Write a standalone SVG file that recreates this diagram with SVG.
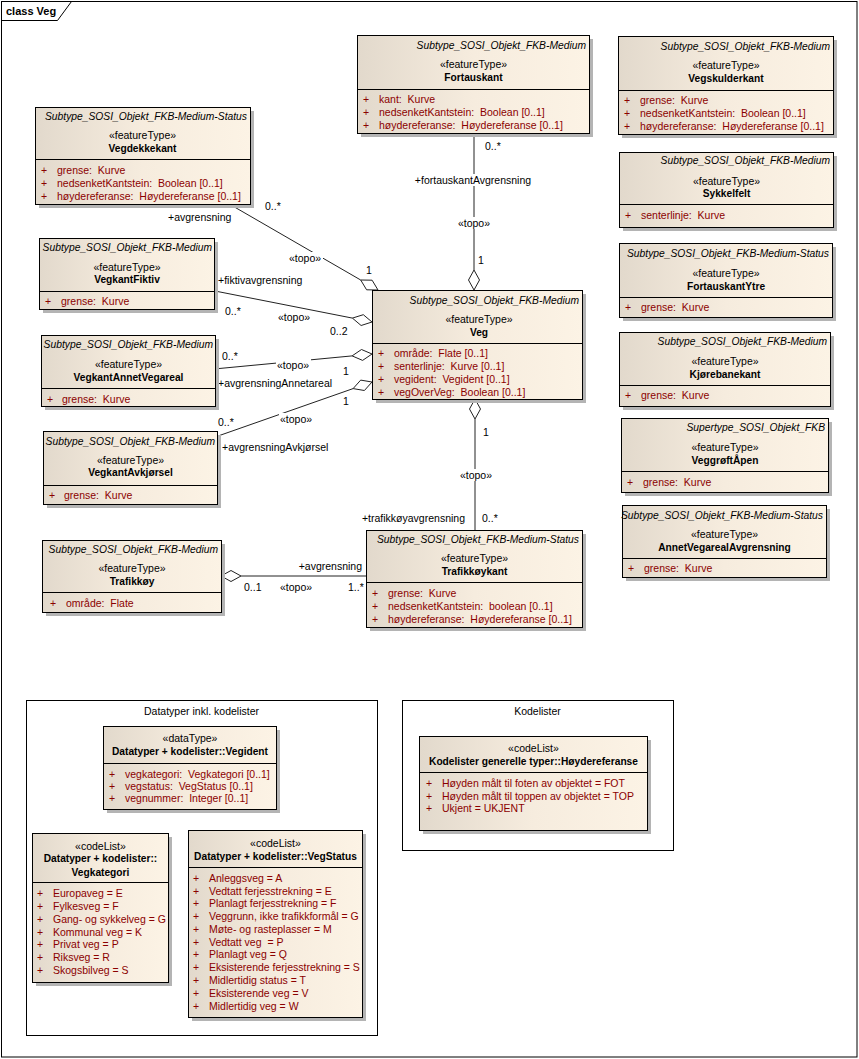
<svg xmlns="http://www.w3.org/2000/svg" width="859" height="1059" viewBox="0 0 859 1059">
<style>
text{font-family:"Liberation Sans",Arial,sans-serif;font-size:10.5px;fill:#000;white-space:pre}
.box{fill:url(#g);stroke:#000;stroke-width:1}
.sh{fill:#b4b4b4}
.dv{stroke:#000;stroke-width:1}
.st{font-style:italic;text-anchor:end;font-size:10.3px}
.ft{text-anchor:middle}
.nm{font-weight:bold;text-anchor:middle;font-size:10.2px}
.at{fill:#8b0000}
.pk{fill:none;stroke:#000;stroke-width:1}
.ln{stroke:#222;stroke-width:1;fill:none}
.dia{fill:#fff;stroke:#222;stroke-width:1}
.bg{fill:#fff}
.mid{text-anchor:middle}
.end{text-anchor:end}
</style>
<defs>
<linearGradient id="g" x1="0" y1="0" x2="1" y2="0">
<stop offset="0" stop-color="#e2d9cc"/>
<stop offset="0.5" stop-color="#f6ecde"/>
<stop offset="1" stop-color="#fcf3e5"/>
</linearGradient>
</defs>
<rect x="0" y="0" width="859" height="1059" fill="#fff"/>
<g id="frame">
<rect class="pk" x="1.5" y="1.5" width="855.5" height="1055.5"/>
<path class="pk" d="M1.5 20.5H57.5L71.5 1.5"/>
<text x="6" y="15" style="font-weight:bold;font-size:11px">class Veg</text>
</g>

<g id="pkg-datatyper">
<rect class="pk" x="26.5" y="700.5" width="351" height="335"/>
<text class="mid" x="201.5" y="715">Datatyper inkl. kodelister</text>
</g>
<g id="pkg-kodelister">
<rect class="pk" x="402.5" y="700.5" width="271" height="150"/>
<text class="mid" x="537.5" y="715">Kodelister</text>
</g>

<g id="connectors">
<line class="ln" x1="231" y1="205" x2="360.7" y2="280"/>
<polygon class="dia" points="378,290 366.6,289.8 360.7,280 372.1,280.2"/>
<line class="ln" x1="215" y1="291" x2="352.4" y2="318.1"/>
<polygon class="dia" points="372,322 361.1,325.5 352.4,318.1 363.3,314.7"/>
<line class="ln" x1="214" y1="369" x2="352.1" y2="355.9"/>
<polygon class="dia" points="372,354 362.6,360.4 352.1,355.9 361.5,349.5"/>
<line class="ln" x1="218" y1="436" x2="353.1" y2="388.6"/>
<polygon class="dia" points="372,382 364.4,390.5 353.1,388.6 360.7,380.1"/>
<line class="ln" x1="474" y1="133" x2="474" y2="270"/>
<polygon class="dia" points="474,290 479.5,280 474,270 468.5,280"/>
<line class="ln" x1="475" y1="419" x2="475" y2="530"/>
<polygon class="dia" points="475,399 480.5,409 475,419 469.5,409"/>
<line class="ln" x1="241" y1="576" x2="366" y2="576"/>
<polygon class="dia" points="221,576 231,570.5 241,576 231,581.5"/>

<rect class="bg" x="288" y="252" width="35" height="12"/>
<rect class="bg" x="276" y="359" width="35" height="12"/>
<rect class="bg" x="279" y="413" width="35" height="12"/>
<rect class="bg" x="414" y="174" width="118" height="12"/>
<rect class="bg" x="457" y="217" width="34" height="12"/>
<rect class="bg" x="459" y="469" width="34" height="12"/>

<text x="168" y="221">+avgrensning</text>
<text x="265" y="210">0..*</text>
<text x="289" y="262">«topo»</text>
<text x="366" y="274">1</text>

<text x="218" y="284">+fiktivavgrensning</text>
<text x="225" y="315">0..*</text>
<text x="278" y="321">«topo»</text>
<text x="330" y="335">0..2</text>

<text x="222" y="360">0..*</text>
<text x="277" y="369">«topo»</text>
<text x="343" y="375">1</text>
<text x="218" y="387">+avgrensningAnnetareal</text>

<text x="218" y="426">0..*</text>
<text x="280" y="423">«topo»</text>
<text x="343" y="405">1</text>
<text x="222" y="451">+avgrensningAvkjørsel</text>

<text x="485" y="150">0..*</text>
<text class="mid" x="473" y="184">+fortauskantAvgrensning</text>
<text class="mid" x="474" y="227">«topo»</text>
<text x="478" y="264">1</text>

<text x="483" y="436">1</text>
<text class="mid" x="476" y="479">«topo»</text>
<text class="end" x="465" y="522">+trafikkøyavgrensning</text>
<text x="482" y="522">0..*</text>

<text class="end" x="362" y="570">+avgrensning</text>
<text x="244" y="591">0..1</text>
<text x="280" y="591">«topo»</text>
<text x="348" y="591">1..*</text>
</g>

<g id="Vegdekkekant">
<rect class="sh" x="39" y="111" width="215" height="97"/>
<rect class="box" x="35.5" y="107.5" width="215" height="97"/>
<line class="dv" x1="35.5" y1="159.5" x2="250.5" y2="159.5"/>
<text class="st" x="247" y="120">Subtype_SOSI_Objekt_FKB-Medium-Status</text>
<text class="ft" x="142.5" y="139">«featureType»</text>
<text class="nm" x="142.5" y="152">Vegdekkekant</text>
<text class="at" x="41" y="174">+</text><text class="at" x="57" y="174">grense:  Kurve</text>
<text class="at" x="41" y="187">+</text><text class="at" x="57" y="187">nedsenketKantstein:  Boolean [0..1]</text>
<text class="at" x="41" y="200">+</text><text class="at" x="57" y="200">høydereferanse:  Høydereferanse [0..1]</text>
</g>

<g id="Fortauskant">
<rect class="sh" x="361" y="39" width="232" height="98"/>
<rect class="box" x="357.5" y="35.5" width="232" height="98"/>
<line class="dv" x1="357.5" y1="89.5" x2="589.5" y2="89.5"/>
<text class="st" x="586" y="49">Subtype_SOSI_Objekt_FKB-Medium</text>
<text class="ft" x="473.5" y="68">«featureType»</text>
<text class="nm" x="473.5" y="81">Fortauskant</text>
<text class="at" x="363" y="103">+</text><text class="at" x="379" y="103">kant:  Kurve</text>
<text class="at" x="363" y="116">+</text><text class="at" x="379" y="116">nedsenketKantstein:  Boolean [0..1]</text>
<text class="at" x="363" y="129">+</text><text class="at" x="379" y="129">høydereferanse:  Høydereferanse [0..1]</text>
</g>

<g id="Vegskulderkant">
<rect class="sh" x="622" y="40" width="215" height="98"/>
<rect class="box" x="618.5" y="36.5" width="215" height="98"/>
<line class="dv" x1="618.5" y1="90.5" x2="833.5" y2="90.5"/>
<text class="st" x="830" y="50">Subtype_SOSI_Objekt_FKB-Medium</text>
<text class="ft" x="726" y="69">«featureType»</text>
<text class="nm" x="726" y="82">Vegskulderkant</text>
<text class="at" x="624" y="104">+</text><text class="at" x="640" y="104">grense:  Kurve</text>
<text class="at" x="624" y="117">+</text><text class="at" x="640" y="117">nedsenketKantstein:  Boolean [0..1]</text>
<text class="at" x="624" y="130">+</text><text class="at" x="640" y="130">høydereferanse:  Høydereferanse [0..1]</text>
</g>

<g id="Sykkelfelt">
<rect class="sh" x="623" y="156" width="214" height="75"/>
<rect class="box" x="619.5" y="152.5" width="214" height="75"/>
<line class="dv" x1="619.5" y1="204.5" x2="833.5" y2="204.5"/>
<text class="st" x="830" y="164">Subtype_SOSI_Objekt_FKB-Medium</text>
<text class="ft" x="726.5" y="185">«featureType»</text>
<text class="nm" x="726.5" y="197">Sykkelfelt</text>
<text class="at" x="625" y="219">+</text><text class="at" x="641" y="219">senterlinje:  Kurve</text>
</g>

<g id="FortauskantYtre">
<rect class="sh" x="623" y="247" width="213" height="74"/>
<rect class="box" x="619.5" y="243.5" width="213" height="74"/>
<line class="dv" x1="619.5" y1="297.5" x2="832.5" y2="297.5"/>
<text class="st" x="829" y="257">Subtype_SOSI_Objekt_FKB-Medium-Status</text>
<text class="ft" x="726" y="277">«featureType»</text>
<text class="nm" x="726" y="290">FortauskantYtre</text>
<text class="at" x="625" y="311">+</text><text class="at" x="641" y="311">grense:  Kurve</text>
</g>

<g id="Kjorebanekant">
<rect class="sh" x="623" y="336" width="211" height="74"/>
<rect class="box" x="619.5" y="332.5" width="211" height="74"/>
<line class="dv" x1="619.5" y1="385.5" x2="830.5" y2="385.5"/>
<text class="st" x="827" y="345">Subtype_SOSI_Objekt_FKB-Medium</text>
<text class="ft" x="725" y="365">«featureType»</text>
<text class="nm" x="725" y="378">Kjørebanekant</text>
<text class="at" x="625" y="399">+</text><text class="at" x="641" y="399">grense:  Kurve</text>
</g>

<g id="VeggroftApen">
<rect class="sh" x="625" y="422" width="207" height="74"/>
<rect class="box" x="621.5" y="418.5" width="207" height="74"/>
<line class="dv" x1="621.5" y1="471.5" x2="828.5" y2="471.5"/>
<text class="st" x="825" y="431">Supertype_SOSI_Objekt_FKB</text>
<text class="ft" x="725" y="451">«featureType»</text>
<text class="nm" x="725" y="464">VeggrøftÅpen</text>
<text class="at" x="627" y="486">+</text><text class="at" x="643" y="486">grense:  Kurve</text>
</g>

<g id="AnnetVegarealAvgrensning">
<rect class="sh" x="626" y="509" width="204" height="72"/>
<rect class="box" x="622.5" y="505.5" width="204" height="72"/>
<line class="dv" x1="622.5" y1="558.5" x2="826.5" y2="558.5"/>
<text class="st" x="823" y="519">Subtype_SOSI_Objekt_FKB-Medium-Status</text>
<text class="ft" x="724.5" y="538">«featureType»</text>
<text class="nm" x="724.5" y="551">AnnetVegarealAvgrensning</text>
<text class="at" x="628" y="572">+</text><text class="at" x="644" y="572">grense:  Kurve</text>
</g>

<g id="Veg">
<rect class="sh" x="376" y="294" width="210" height="109"/>
<rect class="box" x="372.5" y="290.5" width="210" height="109"/>
<line class="dv" x1="372.5" y1="343.5" x2="582.5" y2="343.5"/>
<text class="st" x="579" y="304">Subtype_SOSI_Objekt_FKB-Medium</text>
<text class="ft" x="479" y="323">«featureType»</text>
<text class="nm" x="479" y="336">Veg</text>
<text class="at" x="378" y="357">+</text><text class="at" x="394" y="357">område:  Flate [0..1]</text>
<text class="at" x="378" y="370">+</text><text class="at" x="394" y="370">senterlinje:  Kurve [0..1]</text>
<text class="at" x="378" y="383">+</text><text class="at" x="394" y="383">vegident:  Vegident [0..1]</text>
<text class="at" x="378" y="396">+</text><text class="at" x="394" y="396">vegOverVeg:  Boolean [0..1]</text>
</g>

<g id="VegkantFiktiv">
<rect class="sh" x="43" y="242" width="175" height="71"/>
<rect class="box" x="39.5" y="238.5" width="175" height="71"/>
<line class="dv" x1="39.5" y1="291.5" x2="214.5" y2="291.5"/>
<text class="st" x="212" y="251">Subtype_SOSI_Objekt_FKB-Medium</text>
<text class="ft" x="127" y="271">«featureType»</text>
<text class="nm" x="127" y="283">VegkantFiktiv</text>
<text class="at" x="45" y="305">+</text><text class="at" x="61" y="305">grense:  Kurve</text>
</g>

<g id="VegkantAnnetVegareal">
<rect class="sh" x="45" y="339" width="174" height="71"/>
<rect class="box" x="41.5" y="335.5" width="174" height="71"/>
<line class="dv" x1="41.5" y1="388.5" x2="215.5" y2="388.5"/>
<text class="st" x="213" y="348">Subtype_SOSI_Objekt_FKB-Medium</text>
<text class="ft" x="128.5" y="368">«featureType»</text>
<text class="nm" x="128.5" y="381">VegkantAnnetVegareal</text>
<text class="at" x="47" y="403">+</text><text class="at" x="62" y="403">grense:  Kurve</text>
</g>

<g id="VegkantAvkjorsel">
<rect class="sh" x="47" y="435" width="174" height="73"/>
<rect class="box" x="43.5" y="431.5" width="174" height="73"/>
<line class="dv" x1="43.5" y1="485.5" x2="217.5" y2="485.5"/>
<text class="st" x="215" y="445">Subtype_SOSI_Objekt_FKB-Medium</text>
<text class="ft" x="130.5" y="464">«featureType»</text>
<text class="nm" x="130.5" y="476">VegkantAvkjørsel</text>
<text class="at" x="49" y="499">+</text><text class="at" x="64" y="499">grense:  Kurve</text>
</g>

<g id="Trafikkoykant">
<rect class="sh" x="370" y="534" width="216" height="97"/>
<rect class="box" x="366.5" y="530.5" width="216" height="97"/>
<line class="dv" x1="366.5" y1="582.5" x2="582.5" y2="582.5"/>
<text class="st" x="579" y="543">Subtype_SOSI_Objekt_FKB-Medium-Status</text>
<text class="ft" x="474.5" y="562">«featureType»</text>
<text class="nm" x="474.5" y="575">Trafikkøykant</text>
<text class="at" x="372" y="597">+</text><text class="at" x="388" y="597">grense:  Kurve</text>
<text class="at" x="372" y="610">+</text><text class="at" x="388" y="610">nedsenketKantstein:  boolean [0..1]</text>
<text class="at" x="372" y="623">+</text><text class="at" x="388" y="623">høydereferanse:  Høydereferanse [0..1]</text>
</g>

<g id="Trafikkoy">
<rect class="sh" x="46" y="544" width="179" height="72"/>
<rect class="box" x="42.5" y="540.5" width="179" height="72"/>
<line class="dv" x1="42.5" y1="592.5" x2="221.5" y2="592.5"/>
<text class="st" x="218" y="553">Subtype_SOSI_Objekt_FKB-Medium</text>
<text class="ft" x="132" y="572">«featureType»</text>
<text class="nm" x="132" y="585">Trafikkøy</text>
<text class="at" x="50" y="607">+</text><text class="at" x="66" y="607">område:  Flate</text>
</g>

<g id="Vegident">
<rect class="sh" x="107" y="730" width="173" height="83"/>
<rect class="box" x="103.5" y="726.5" width="173" height="83"/>
<line class="dv" x1="103.5" y1="763.5" x2="276.5" y2="763.5"/>
<text class="ft" x="190" y="742">«dataType»</text>
<text class="nm" x="190" y="755">Datatyper + kodelister::Vegident</text>
<text class="at" x="109" y="778">+</text><text class="at" x="125" y="778">vegkategori:  Vegkategori [0..1]</text>
<text class="at" x="109" y="790">+</text><text class="at" x="125" y="790">vegstatus:  VegStatus [0..1]</text>
<text class="at" x="109" y="802">+</text><text class="at" x="125" y="802">vegnummer:  Integer [0..1]</text>
</g>

<g id="Vegkategori">
<rect class="sh" x="36" y="837" width="136" height="149"/>
<rect class="box" x="32.5" y="833.5" width="136" height="149"/>
<line class="dv" x1="32.5" y1="882.5" x2="168.5" y2="882.5"/>
<text class="ft" x="100.5" y="850">«codeList»</text>
<text class="nm" x="100.5" y="862">Datatyper + kodelister::</text>
<text class="nm" x="100.5" y="876">Vegkategori</text>
<text class="at" x="37" y="897">+</text><text class="at" x="53" y="897">Europaveg = E</text>
<text class="at" x="37" y="910">+</text><text class="at" x="53" y="910">Fylkesveg = F</text>
<text class="at" x="37" y="923">+</text><text class="at" x="53" y="923">Gang- og sykkelveg = G</text>
<text class="at" x="37" y="936">+</text><text class="at" x="53" y="936">Kommunal veg = K</text>
<text class="at" x="37" y="948">+</text><text class="at" x="53" y="948">Privat veg = P</text>
<text class="at" x="37" y="961">+</text><text class="at" x="53" y="961">Riksveg = R</text>
<text class="at" x="37" y="974">+</text><text class="at" x="53" y="974">Skogsbilveg = S</text>
</g>

<g id="VegStatus">
<rect class="sh" x="192" y="834" width="174" height="187"/>
<rect class="box" x="188.5" y="830.5" width="174" height="187"/>
<line class="dv" x1="188.5" y1="867.5" x2="362.5" y2="867.5"/>
<text class="ft" x="275.5" y="847">«codeList»</text>
<text class="nm" x="275.5" y="860">Datatyper + kodelister::VegStatus</text>
<text class="at" x="193" y="882">+</text><text class="at" x="209" y="882">Anleggsveg = A</text>
<text class="at" x="193" y="895">+</text><text class="at" x="209" y="895">Vedtatt ferjesstrekning = E</text>
<text class="at" x="193" y="907">+</text><text class="at" x="209" y="907">Planlagt ferjesstrekning = F</text>
<text class="at" x="193" y="920">+</text><text class="at" x="209" y="920">Veggrunn, ikke trafikkformål = G</text>
<text class="at" x="193" y="933">+</text><text class="at" x="209" y="933">Møte- og rasteplasser = M</text>
<text class="at" x="193" y="946">+</text><text class="at" x="209" y="946">Vedtatt veg  = P</text>
<text class="at" x="193" y="958">+</text><text class="at" x="209" y="958">Planlagt veg = Q</text>
<text class="at" x="193" y="971">+</text><text class="at" x="209" y="971">Eksisterende ferjesstrekning = S</text>
<text class="at" x="193" y="984">+</text><text class="at" x="209" y="984">Midlertidig status = T</text>
<text class="at" x="193" y="997">+</text><text class="at" x="209" y="997">Eksisterende veg = V</text>
<text class="at" x="193" y="1010">+</text><text class="at" x="209" y="1010">Midlertidig veg = W</text>
</g>

<g id="Hoydereferanse">
<rect class="sh" x="423" y="740" width="228" height="94"/>
<rect class="box" x="419.5" y="736.5" width="228" height="94"/>
<line class="dv" x1="419.5" y1="772.5" x2="647.5" y2="772.5"/>
<text class="ft" x="533.5" y="752">«codeList»</text>
<text class="nm" x="533.5" y="765">Kodelister generelle typer::Høydereferanse</text>
<text class="at" x="426" y="787">+</text><text class="at" x="442" y="787">Høyden målt til foten av objektet = FOT</text>
<text class="at" x="426" y="800">+</text><text class="at" x="442" y="800">Høyden målt til toppen av objektet = TOP</text>
<text class="at" x="426" y="812">+</text><text class="at" x="442" y="812">Ukjent = UKJENT</text>
</g>
</svg>
